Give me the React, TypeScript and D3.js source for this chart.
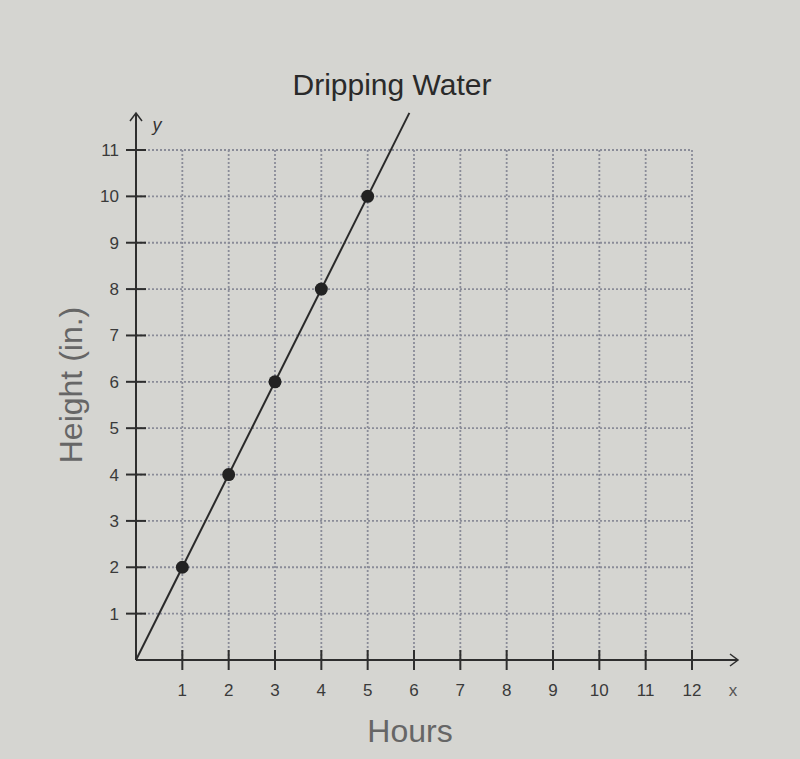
import React from 'react';
import * as d3 from 'd3';

const title = 'Dripping Water';
const xLabel = 'Hours';
const yLabel = 'Height (in.)';
const hours = [1, 2, 3, 4, 5];
const heights = [2, 4, 6, 8, 10];
const xTicks = [1, 2, 3, 4, 5, 6, 7, 8, 9, 10, 11, 12];
const yTicks = [1, 2, 3, 4, 5, 6, 7, 8, 9, 10, 11];

const W = 800;
const H = 759;

export default function App() {
  const x = d3.scaleLinear().domain([0, 12]).range([136, 692]);
  const y = d3.scaleLinear().domain([0, 11]).range([660, 150]);
  const axisColor = '#2e2e2e';
  const gridColor = '#8a8c98';
  const font = 'Liberation Sans, Arial, sans-serif';

  // line through origin, extended past the last point
  const lineEnd = 11.8;
  const line = d3.line<[number, number]>().x(d => x(d[0])).y(d => y(d[1]));
  const slope = heights[heights.length - 1] / hours[hours.length - 1];
  const linePts: [number, number][] = [[0, 0], [lineEnd / slope, lineEnd]];

  return (
    <svg width={W} height={H} style={{ position: 'absolute', left: 0, top: 0 }} fontFamily={font}>
      <rect width={W} height={H} fill="#d5d5d1" />

      {/* grid */}
      {xTicks.map(t => (
        <line key={'gx' + t} x1={x(t)} x2={x(t)} y1={y(11)} y2={y(0)}
          stroke={gridColor} strokeWidth={1.8} strokeDasharray="2,2" />
      ))}
      {yTicks.map(t => (
        <line key={'gy' + t} x1={x(0)} x2={x(12)} y1={y(t)} y2={y(t)}
          stroke={gridColor} strokeWidth={1.8} strokeDasharray="2,2" />
      ))}

      {/* axes */}
      <line x1={x(0)} x2={738} y1={y(0)} y2={y(0)} stroke={axisColor} strokeWidth={2} />
      <path d={`M730,${y(0) - 6} L738,${y(0)} L730,${y(0) + 6}`} fill="none" stroke={axisColor} strokeWidth={1.5} />
      <line x1={x(0)} x2={x(0)} y1={y(0)} y2={113} stroke={axisColor} strokeWidth={2} />
      <path d={`M${x(0) - 6},121 L${x(0)},113 L${x(0) + 6},121`} fill="none" stroke={axisColor} strokeWidth={1.5} />

      {xTicks.map(t => (
        <g key={'tx' + t}>
          <line x1={x(t)} x2={x(t)} y1={y(0) - 10} y2={y(0) + 10} stroke={axisColor} strokeWidth={2} />
          <text x={x(t)} y={y(0) + 36} textAnchor="middle" fontSize={17} fill="#3a3a3a">{t}</text>
        </g>
      ))}
      {yTicks.map(t => (
        <g key={'ty' + t}>
          <line x1={x(0) - 10} x2={x(0) + 10} y1={y(t)} y2={y(t)} stroke={axisColor} strokeWidth={2} />
          <text x={x(0) - 17} y={y(t) + 6} textAnchor="end" fontSize={17} fill="#3a3a3a">{t}</text>
        </g>
      ))}
      <text x={733} y={y(0) + 36} textAnchor="middle" fontSize={17} fill="#555">x</text>
      <text x={157} y={131} textAnchor="middle" fontSize={18} fontStyle="italic" fill="#333">y</text>

      {/* data line and points */}
      <path d={line(linePts) || ''} fill="none" stroke="#2a2a2a" strokeWidth={2} />
      {hours.map((h, i) => (
        <circle key={'p' + i} cx={x(h)} cy={y(heights[i])} r={6.5} fill="#222" />
      ))}

      {/* labels */}
      <text x={392} y={95} textAnchor="middle" fontSize={30} fill="#2a2a2a">{title}</text>
      <text x={410} y={742} textAnchor="middle" fontSize={32} fill="#666">{xLabel}</text>
      <text transform={`translate(82,385) rotate(-90)`} textAnchor="middle" fontSize={32} fill="#666">{yLabel}</text>
    </svg>
  );
}
